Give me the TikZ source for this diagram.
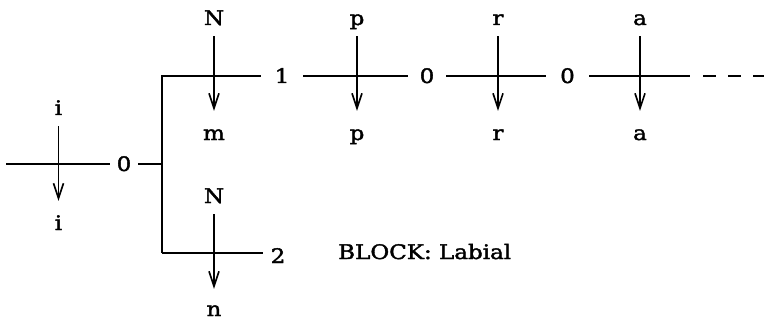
\documentclass[tikz,border=0pt]{standalone}
\usepackage{fontspec}
\setmainfont{DejaVu Serif}[FakeStretch=1.15,FakeBold=2]
\usetikzlibrary{arrows.meta}
\begin{document}
\begin{tikzpicture}[x=1pt,y=-1pt,
  every node/.style={font=\fontsize{20pt}{24pt}\selectfont},
  line/.style={line width=1.6pt},
  arr/.style={line width=1.6pt,-{Straight Barb[length=15pt,width=10pt,line width=1.6pt]},
              shorten <=8pt, shorten >=17pt},
  lbl/.style={inner sep=0pt, text height=10pt, text depth=3pt, anchor=base},
  dig/.style={inner sep=0pt, text height=14pt, text depth=0pt},
  dash line/.style={line width=1.6pt, dash pattern=on 13pt off 12pt}]
\useasboundingbox (0,0) rectangle (764,321);

% vertical labels
\node[lbl] (it) at (58.5,115) {i};
\node[lbl] (ib) at (58.5,230) {i};
\node[lbl] (Nt) at (214,25) {N};
\node[lbl] (mb) at (214,140) {m};
\node[lbl] (pt) at (357,25) {p};
\node[lbl] (pb) at (357,140) {p};
\node[lbl] (rt) at (498,25) {r};
\node[lbl] (rb) at (498,140) {r};
\node[lbl] (at) at (640,25) {a};
\node[lbl] (ab) at (640,140) {a};
\node[lbl] (N2t) at (214,203) {N};
\node[lbl] (nb) at (214,316) {n};

% junction digits
\node[dig, minimum width=28pt] (z0) at (124,164) {0};
\node[dig, minimum width=42pt] (one) at (282,76) {1};
\node[dig, minimum width=38pt] (z1) at (427,76) {0};
\node[dig, minimum width=43pt] (z2) at (567.5,76) {0};
\node[dig, minimum width=30pt] (two) at (278,256) {2};
\node[anchor=base west, inner sep=0pt] (blk) at (338,259) {BLOCK: Labial};

% free ends and bracket corners
\coordinate (in) at (6,164);
\coordinate (brt) at (162,76);
\coordinate (brm) at (162,164);
\coordinate (brb) at (162,253);
\coordinate (aend) at (690,76);
\coordinate (ds) at (703,76);
\coordinate (de) at (764,76);

% horizontal lines
\draw[line] (in) -- (z0.west);
\draw[line] (z0.east) -- (brm);
\draw[line] (brb) -- (brt) -- (one.west);
\draw[line] (brb) -- (brb -| two.west);
\draw[line] (one.east) -- (z1.west);
\draw[line] (z1.east) -- (z2.west);
\draw[line] (z2.east) -- (aend);
\draw[dash line] (ds) -- (de);

% vertical arrows
\draw[arr] (it) -- ([yshift=2pt]ib.north);
\draw[arr] (Nt) -- ([yshift=2pt]mb.north);
\draw[arr] (pt) -- ([yshift=2pt]pb.north);
\draw[arr] (rt) -- ([yshift=2pt]rb.north);
\draw[arr] (at) -- ([yshift=2pt]ab.north);
\draw[arr] (N2t) -- ([yshift=0pt]nb.north);
\end{tikzpicture}
\end{document}
